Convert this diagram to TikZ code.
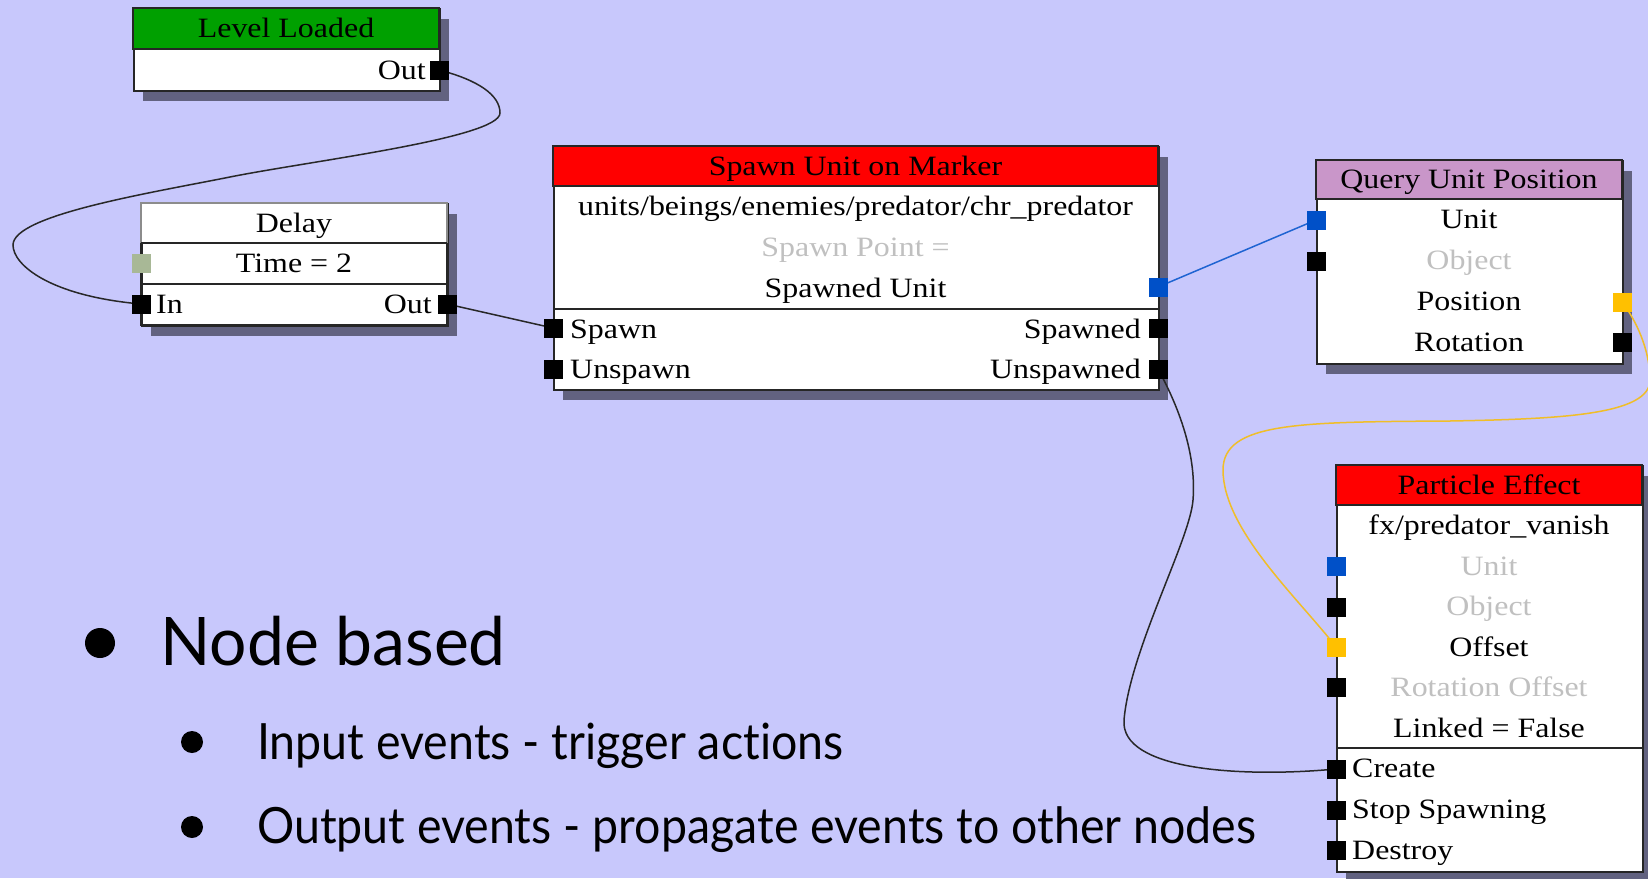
\documentclass[tikz,border=0pt]{standalone}
\usepackage{fontspec}
\usepackage{graphicx}
\setmainfont{Liberation Serif}
\newfontfamily\gillfont[Ligatures=NoCommon]{Lato}
\definecolor{bgc}{RGB}{200,200,252}
\definecolor{shadowc}{RGB}{98,98,128}
\definecolor{greenc}{RGB}{0,160,0}
\definecolor{redc}{RGB}{255,0,0}
\definecolor{purplec}{RGB}{201,150,201}
\definecolor{bluec}{RGB}{0,80,200}
\definecolor{yellowc}{RGB}{255,192,0}
\definecolor{sagec}{RGB}{168,184,150}
\definecolor{greytext}{RGB}{192,192,192}
\definecolor{wirec}{RGB}{40,40,40}
\definecolor{bwirec}{RGB}{30,100,210}
\definecolor{ywirec}{RGB}{240,190,40}
\newcommand\nf{\fontsize{28}{30}\selectfont}
\newcommand\sx[1]{\scalebox{1.14}[1]{#1}}
\newcommand\gx[1]{\scalebox{0.93}[1]{#1}}
\pgfdeclarelayer{bg}
\pgfdeclarelayer{wires}
\pgfsetlayers{bg,wires,main}
\begin{document}
\begin{tikzpicture}[x=1pt,y=-1pt,
  frame/.style={draw=black!85, line width=1.6pt},
  nodebox/.style={rectangle, anchor=north west, inner sep=0pt, fill=white, frame},
  lbl/.style={inner sep=0pt, font=\nf},
  glbl/.style={inner sep=0pt, font=\nf, text=greytext},
  evport/.style={rectangle, fill=black, minimum size=19pt, inner sep=0pt},
  bport/.style={evport, fill=bluec},
  yport/.style={evport, fill=yellowc},
  sport/.style={evport, fill=sagec},
  wire/.style={draw=wirec, line width=1.5pt},
  bwire/.style={draw=bwirec, line width=1.5pt},
  ywire/.style={draw=ywirec, line width=1.5pt},
  bigdot/.style={circle, fill=black, inner sep=0pt},
  bigtext/.style={inner sep=0pt, anchor=base west}
]
\useasboundingbox (0,0) rectangle (1648,878);
\clip (0,0) rectangle (1648,878);
\begin{pgfonlayer}{bg}
\fill[bgc] (0,0) rectangle (1648,878);
\fill[shadowc] (143,19) rectangle (449,101);
\fill[shadowc] (151,214) rectangle (457,336);
\fill[shadowc] (563,157) rectangle (1168,400);
\fill[shadowc] (1326,171) rectangle (1632,374);
\fill[shadowc] (1346,476) rectangle (1652,882);
\end{pgfonlayer}

% Level Loaded
\node[nodebox, minimum width=306pt, minimum height=82pt] (LL) at (133,8) {};
\draw[frame, fill=greenc] (133,8) rectangle (439,49);
\node[lbl, anchor=base] (LLt) at (286,37.5) {\sx{Level Loaded}};
\node[lbl, anchor=base east] (LLo) at (426,79) {\sx{Out}};
\node[evport] (LLout) at (439,70) {};

% Delay
\node[nodebox, minimum width=306pt, minimum height=122pt] (DL) at (141,203) {};
\draw[draw=black!45, line width=1.6pt, fill=white] (141,203) rectangle (447,243);
\draw[frame] (141,243) -- (447,243);
\draw[frame] (141,284) -- (447,284);
\draw[frame] (141,243) -- (141,325) -- (447,325) -- (447,243);
\node[lbl, anchor=base] (DLt) at (294,232) {\sx{Delay}};
\node[lbl, anchor=base] (DLtime) at (294,272.5) {\sx{Time = 2}};
\node[lbl, anchor=base west] (DLin) at (156,313.5) {\sx{In}};
\node[lbl, anchor=base east] (DLo) at (432,313.5) {\sx{Out}};
\node[sport] (Dsage) at (141,263) {};
\node[evport] (DIn) at (141,304) {};
\node[evport] (DOut) at (447,304) {};

% Spawn Unit on Marker
\node[nodebox, minimum width=605pt, minimum height=243pt] (SP) at (553,146) {};
\draw[frame, fill=redc] (553,146) rectangle (1158,186);
\draw[frame] (553,309) -- (1158,309);
\node[lbl, anchor=base] (SPt) at (855.5,175) {\sx{Spawn Unit on Marker}};
\node[lbl, anchor=base] (SPpath) at (855.5,215.5) {\sx{units/beings/enemies/predator/chr\_predator}};
\node[glbl, anchor=base] (SPpoint) at (855.5,256.5) {\sx{Spawn Point =}};
\node[lbl, anchor=base] (SPunit) at (855.5,297.5) {\sx{Spawned Unit}};
\node[lbl, anchor=base west] (SPsp) at (570,338) {\sx{Spawn}};
\node[lbl, anchor=base west] (SPun) at (570,378) {\sx{Unspawn}};
\node[lbl, anchor=base east] (SPspd) at (1141,338) {\sx{Spawned}};
\node[lbl, anchor=base east] (SPund) at (1141,378) {\sx{Unspawned}};
\node[bport] (SpUnit) at (1158,287) {};
\node[evport] (SpIn) at (553,328) {};
\node[evport] (SpUn) at (553,369) {};
\node[evport] (SpOut) at (1158,328) {};
\node[evport] (SpUnsp) at (1158,369) {};

% Query Unit Position
\node[nodebox, minimum width=306pt, minimum height=203pt] (QU) at (1316,160) {};
\draw[frame, fill=purplec] (1316,160) rectangle (1622,199);
\node[lbl, anchor=base] (QUt) at (1469,188.5) {\sx{Query Unit Position}};
\node[lbl, anchor=base] (QUu) at (1469,228.5) {\sx{Unit}};
\node[glbl, anchor=base] (QUo) at (1469,269.5) {\sx{Object}};
\node[lbl, anchor=base] (QUp) at (1469,310.5) {\sx{Position}};
\node[lbl, anchor=base] (QUr) at (1469,351.5) {\sx{Rotation}};
\node[bport] (QUnit) at (1316,220) {};
\node[evport] (QObj) at (1316,261) {};
\node[yport] (QPos) at (1622,302) {};
\node[evport] (QRot) at (1622,342) {};

% Particle Effect
\node[nodebox, minimum width=306pt, minimum height=406pt] (PE) at (1336,465) {};
\draw[frame, fill=redc] (1336,465) rectangle (1642,505);
\draw[frame] (1336,748) -- (1642,748);
\node[lbl, anchor=base] (PEt) at (1489,494) {\sx{Particle Effect}};
\node[lbl, anchor=base] (PEfx) at (1489,534) {\sx{fx/predator\_vanish}};
\node[glbl, anchor=base] (PEu) at (1489,575) {\sx{Unit}};
\node[glbl, anchor=base] (PEo) at (1489,615) {\sx{Object}};
\node[lbl, anchor=base] (PEoff) at (1489,656) {\sx{Offset}};
\node[glbl, anchor=base] (PEro) at (1489,696) {\sx{Rotation Offset}};
\node[lbl, anchor=base] (PEl) at (1489,737) {\sx{Linked = False}};
\node[lbl, anchor=base west] (PEc) at (1352,777.5) {\sx{Create}};
\node[lbl, anchor=base west] (PEs) at (1352,818.5) {\sx{Stop Spawning}};
\node[lbl, anchor=base west] (PEd) at (1352,859.5) {\sx{Destroy}};
\node[bport] (PUnit) at (1336,566) {};
\node[evport] (PObj) at (1336,607) {};
\node[yport] (POff) at (1336,647) {};
\node[evport] (PRot) at (1336,687) {};
\node[evport] (PCreate) at (1336,769) {};
\node[evport] (PStop) at (1336,810) {};
\node[evport] (PDestroy) at (1336,850) {};

% wires
\begin{pgfonlayer}{wires}
\draw[wire] (LLout.center) .. controls (478,80) and (500,95) .. (500,113)
  .. controls (500,138) and (310,161) .. (230,177)
  .. controls (150,193) and (13,215) .. (13,245)
  .. controls (13,265) and (50,296) .. (DIn.center);
\draw[wire] (DOut.center) -- (SpIn.center);
\draw[bwire] (SpUnit.center) -- (QUnit.center);
\draw[ywire] (QPos.center) .. controls (1636,320) and (1650,350) .. (1650,380)
  .. controls (1650,415) and (1560,419) .. (1450,421)
  .. controls (1300,422) and (1223,422) .. (1223,470)
  .. controls (1223,530) and (1300,600) .. (POff.center);
\draw[wire] (SpUnsp.center) .. controls (1175,400) and (1197,450) .. (1193,500)
  .. controls (1190,540) and (1130,650) .. (1124,720)
  .. controls (1120,770) and (1240,778) .. (PCreate.center);
\end{pgfonlayer}

% bullets
\node[bigdot, minimum size=30pt] (b1) at (100,643) {};
\node[bigtext, font=\gillfont\fontsize{67}{70}\selectfont] (t1) at (160,665) {\scalebox{0.985}[1]{Node based}};
\node[bigdot, minimum size=22pt] (b2) at (192,742) {};
\node[bigtext, font=\gillfont\fontsize{50}{55}\selectfont] (t2) at (257,759) {\gx{Input events - trigger actions}};
\node[bigdot, minimum size=22pt] (b3) at (192,827) {};
\node[bigtext, font=\gillfont\fontsize{50}{55}\selectfont] (t3) at (257,843) {\gx{Output events - propagate events to other nodes}};
\end{tikzpicture}
\end{document}
